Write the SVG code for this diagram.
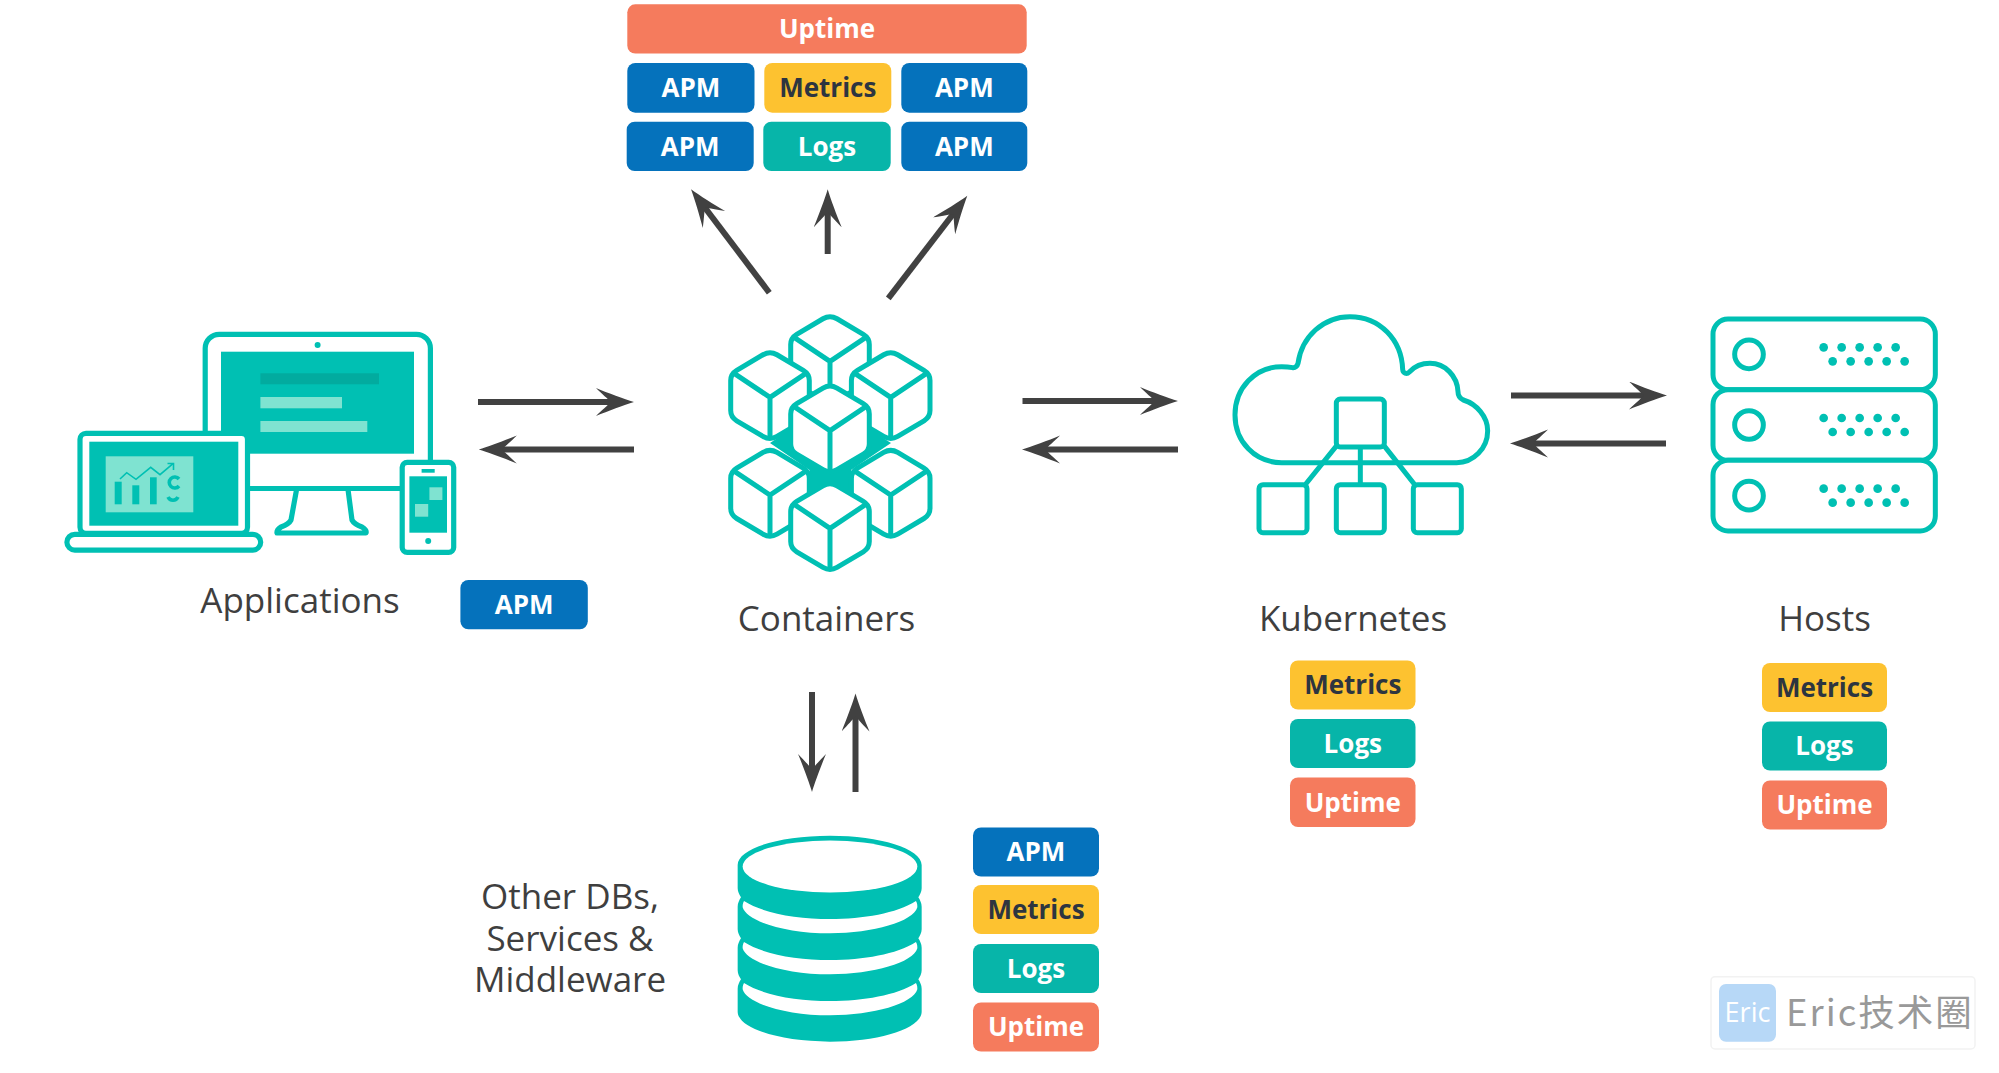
<svg xmlns="http://www.w3.org/2000/svg" width="1999" height="1073" viewBox="0 0 1999 1073">
<style>
.tag text{font-family:"Open Sans","Noto Sans",sans-serif;font-weight:700;font-size:26px;text-anchor:middle;fill:#fff}
.apm rect{fill:#0572bc}.met rect{fill:#fdc230}.log rect{fill:#07b5a9}.upt rect{fill:#f57b5d}
.met text{fill:#2d3540}
.lbl{font-family:"Open Sans","Noto Sans",sans-serif;font-size:35px;fill:#3f3f3f;text-anchor:middle}
.ln{fill:none;stroke:#00c0b3;stroke-width:5.2;stroke-linejoin:round;stroke-linecap:round}
.t{fill:#00c0b3}.w{fill:#fff}.lt{fill:#7fe3d1}.dk{fill:#02ab9f}
.arr{stroke:#414141;stroke-width:6;fill:none;marker-end:url(#ah)}
</style>
<defs>
<marker id="ah" markerUnits="userSpaceOnUse" markerWidth="40" markerHeight="30" refX="18" refY="14" orient="auto">
<path d="M38,14C28,11 12,5 0,0C6,6 12,11 15,14C12,17 6,22 0,28C12,23 28,17 38,14Z" fill="#414141"/>
</marker>
<g id="cube">
<path class="w" style="stroke:#00c0b3;stroke-width:5;stroke-linejoin:round" d="M-7,4.17Q0,0 7,4.17L33.3,19.8Q39.3,23.4 39.3,30L39.3,60Q39.3,66.6 33.3,70.2L7,85.83Q0,90 -7,85.83L-33.3,70.2Q-39.3,66.6 -39.3,60L-39.3,30Q-39.3,23.4 -33.3,19.8Z"/>
<path d="M-37,22L0,46.8L37,22M0,46.8V88" fill="none" stroke="#00c0b3" stroke-width="5"/>
</g>
<path id="crescent" class="w" d="M132,243C190,280 290,297 390,297C490,297 590,280 648,243C652,250 652,256 652,262C640,305 520,340 390,340C260,340 140,305 128,262C128,256 128,250 132,243Z"/>
<g id="srv">
<rect x="69" y="57" width="667" height="212" rx="45" fill="#fff" stroke="#00c0b3" stroke-width="15"/>
<circle cx="177" cy="163" r="43" fill="none" stroke="#00c0b3" stroke-width="15"/>
<g class="t"><circle cx="401" cy="142" r="13"/><circle cx="455" cy="142" r="13"/><circle cx="509" cy="142" r="13"/><circle cx="563" cy="142" r="13"/><circle cx="617" cy="142" r="13"/><circle cx="428" cy="184" r="13"/><circle cx="482" cy="184" r="13"/><circle cx="536" cy="184" r="13"/><circle cx="590" cy="184" r="13"/><circle cx="644" cy="184" r="13"/></g>
</g>
</defs>
<rect width="1999" height="1073" fill="#fff"/>

<g id="connectors">
<line class="arr" x1="478" y1="402" x2="614" y2="402"/>
<line class="arr" x1="634" y1="449.5" x2="498.8" y2="449.5"/>
<line class="arr" x1="1022.5" y1="401" x2="1158" y2="401"/>
<line class="arr" x1="1178" y1="449.5" x2="1042" y2="449.5"/>
<line class="arr" x1="1511" y1="395.5" x2="1647" y2="395.5"/>
<line class="arr" x1="1666" y1="443.5" x2="1530" y2="443.5"/>
<line class="arr" x1="769.3" y1="292.7" x2="703.1" y2="205.2"/>
<line class="arr" x1="827.7" y1="254" x2="827.7" y2="209.3"/>
<line class="arr" x1="888.3" y1="298.3" x2="955.1" y2="211.5"/>
<line class="arr" x1="812" y1="692" x2="812" y2="772"/>
<line class="arr" x1="855.5" y1="792" x2="855.5" y2="713.6"/>
</g>

<g id="applications">
<rect x="205.2" y="334.3" width="225.2" height="154.2" rx="14" class="w" style="stroke:#00c0b3;stroke-width:5.2"/>
<rect x="221" y="351.7" width="193" height="102" class="t"/>
<circle cx="317.6" cy="345" r="3" class="t"/>
<rect x="260.4" y="373.3" width="118.6" height="11" class="dk"/>
<rect x="260.4" y="397" width="81.6" height="11.3" class="lt"/>
<rect x="260.4" y="421" width="106.9" height="11" class="lt"/>
<path class="ln" d="M296.3,491L291,520Q289,524 281,527Q276.5,530 277,533H366Q367,530 362,527Q354,524 352,520L348.2,491" style="fill:#fff"/>
<rect x="80" y="433.3" width="167.5" height="100" rx="6" class="w" style="stroke:#00c0b3;stroke-width:5.2"/>
<rect x="89.3" y="441.7" width="149" height="84" class="t"/>
<rect x="105.7" y="456.3" width="87.6" height="56" class="lt"/>
<rect x="114.7" y="481.7" width="7" height="22.6" class="t"/>
<rect x="132.3" y="485.3" width="7" height="19" class="t"/>
<rect x="150" y="477.3" width="6.7" height="27" class="t"/>
<path d="M120,479L126.7,472.7L136,479.3L150.7,467.3L160,474.7L173.3,463.3M167.5,463.5H173.5V470" fill="none" stroke="#00c0b3" stroke-width="1.6"/>
<path d="M179,479A5.5,5.5 0 1 0 179,486" fill="none" stroke="#00c0b3" stroke-width="3.6"/>
<path d="M168,497A5.5,5.5 0 0 0 178,497" fill="none" stroke="#00c0b3" stroke-width="3.6"/>
<rect x="66.9" y="534.3" width="193.8" height="15.8" rx="7.9" class="w" style="stroke:#00c0b3;stroke-width:5.2"/>
<rect x="402.2" y="462.3" width="51.5" height="90.1" rx="5" class="w" style="stroke:#00c0b3;stroke-width:5.2"/>
<rect x="409.4" y="476.3" width="37.6" height="56.4" class="t"/>
<rect x="421.6" y="469" width="13.1" height="3.7" class="t"/>
<circle cx="428.2" cy="541" r="3" class="t"/>
<rect x="429.4" y="487.3" width="13" height="12.7" class="lt"/>
<rect x="415" y="504" width="13.2" height="12.7" class="lt"/>
<text class="lbl" x="300" y="612.7">Applications</text>
</g>
<g id="tag-app-apm" class="tag apm"><rect x="460.4" y="580" width="127.4" height="49.3" rx="8"/><text x="524.1" y="614">APM</text></g>

<g id="tags-top">
<g id="top-uptime" class="tag upt"><rect x="627.3" y="4.3" width="399.4" height="49.2" rx="8"/><text x="827" y="38.3">Uptime</text></g>
<g id="top-apm-1" class="tag apm"><rect x="627.3" y="63" width="127.2" height="49.7" rx="8"/><text x="690.9" y="97.2">APM</text></g>
<g id="top-metrics" class="tag met"><rect x="764.3" y="63" width="127" height="49.7" rx="8"/><text x="827.8" y="97.2">Metrics</text></g>
<g id="top-apm-2" class="tag apm"><rect x="901.3" y="63" width="126" height="49.7" rx="8"/><text x="964.3" y="97.2">APM</text></g>
<g id="top-apm-3" class="tag apm"><rect x="626.7" y="121.7" width="127" height="49.3" rx="8"/><text x="690.2" y="155.7">APM</text></g>
<g id="top-logs" class="tag log"><rect x="763.3" y="121.7" width="127.4" height="49.3" rx="8"/><text x="827" y="155.7">Logs</text></g>
<g id="top-apm-4" class="tag apm"><rect x="901.3" y="121.7" width="126" height="49.3" rx="8"/><text x="964.3" y="155.7">APM</text></g>
</g>

<g id="containers">
<polygon class="t" points="770,443 788,431 872,431 891,443 851,470 851,500 809.5,500 809.5,470"/>
<use href="#cube" x="830" y="314.6"/>
<use href="#cube" x="770" y="350.6"/>
<use href="#cube" x="890.7" y="350.6"/>
<use href="#cube" x="770" y="448.3"/>
<use href="#cube" x="890.7" y="448.3"/>
<use href="#cube" x="830" y="383.9"/>
<use href="#cube" x="830" y="481.6"/>
<text class="lbl" x="826.5" y="631">Containers</text>
</g>

<g id="kubernetes">
<g transform="translate(1200 300) scale(.33333)" fill="none" stroke="#00c0b3" stroke-width="15" stroke-linejoin="round">
<path d="M245,488C165,488 105,425 105,345C105,265 165,200 245,200C255,200 268,201 278,203C286,204 292,198 294,190C305,110 370,50 450,50C540,50 605,120 608,208C609,220 620,224 628,216C645,198 668,190 690,190C735,190 772,228 774,275C774,287 780,295 790,300C830,312 863,350 863,392C863,445 820,488 770,488Z"/>
<path d="M410,437L315,555M481,440V555M552,437L645,555"/>
<rect x="409" y="297" width="144" height="144" rx="12" fill="#fff"/>
<rect x="177" y="554" width="144" height="144" rx="12"/>
<rect x="409" y="554" width="144" height="144" rx="12"/>
<rect x="640" y="554" width="144" height="144" rx="12"/>
</g>
<text class="lbl" x="1353" y="631">Kubernetes</text>
</g>
<g id="tag-k-metrics" class="tag met"><rect x="1290" y="660.5" width="125.5" height="49" rx="8"/><text x="1352.8" y="694.3">Metrics</text></g>
<g id="tag-k-logs" class="tag log"><rect x="1290" y="719" width="125.5" height="49" rx="8"/><text x="1352.8" y="752.8">Logs</text></g>
<g id="tag-k-uptime" class="tag upt"><rect x="1290" y="777.5" width="125.5" height="49.5" rx="8"/><text x="1352.8" y="811.5">Uptime</text></g>

<g id="hosts">
<g transform="translate(1690 300) scale(.33333)">
<use href="#srv"/>
<use href="#srv" y="212"/>
<use href="#srv" y="424"/>
</g>
<text class="lbl" x="1824.5" y="631">Hosts</text>
</g>
<g id="tag-h-metrics" class="tag met"><rect x="1762" y="663" width="125" height="49" rx="8"/><text x="1824.5" y="696.8">Metrics</text></g>
<g id="tag-h-logs" class="tag log"><rect x="1762" y="721.5" width="125" height="49" rx="8"/><text x="1824.5" y="755.3">Logs</text></g>
<g id="tag-h-uptime" class="tag upt"><rect x="1762" y="780.5" width="125" height="49" rx="8"/><text x="1824.5" y="814.3">Uptime</text></g>

<g id="databases">
<g transform="translate(700 820) scale(.33333)">
<path class="t" d="M113,135C113,85 240,47 390,47C540,47 665,85 665,135V205C665,215 660,225 655,232C660,240 665,250 665,260V328C665,338 660,348 655,355C660,363 665,373 665,383V451C665,461 660,471 655,478C660,486 665,496 665,506V575C665,625 540,665 390,665C240,665 113,625 113,575V506C113,496 118,486 123,478C118,471 113,461 113,451V383C113,373 118,363 123,355C118,348 113,338 113,328V260C113,250 118,240 123,232C118,225 113,215 113,205Z"/>
<ellipse class="w" cx="390" cy="139.5" rx="262" ry="78"/>
<use href="#crescent"/>
<use href="#crescent" y="123"/>
<use href="#crescent" y="246"/>
</g>
<text class="lbl" x="570" y="909">Other DBs,</text>
<text class="lbl" x="570" y="950.5">Services &amp;</text>
<text class="lbl" x="570" y="992">Middleware</text>
</g>
<g id="tag-d-apm" class="tag apm"><rect x="973" y="827.5" width="126" height="49" rx="8"/><text x="1036" y="861.3">APM</text></g>
<g id="tag-d-metrics" class="tag met"><rect x="973" y="885" width="126" height="49" rx="8"/><text x="1036" y="918.8">Metrics</text></g>
<g id="tag-d-logs" class="tag log"><rect x="973" y="944" width="126" height="49" rx="8"/><text x="1036" y="977.8">Logs</text></g>
<g id="tag-d-uptime" class="tag upt"><rect x="973" y="1002.5" width="126" height="49" rx="8"/><text x="1036" y="1036.3">Uptime</text></g>

<g id="watermark">
<rect x="1711" y="976.7" width="264" height="72.3" rx="4" fill="#fff" stroke="#f2f2f2" stroke-width="1.5"/>
<rect x="1719" y="984" width="57" height="57.7" rx="7" fill="#b7d8f7"/>
<text x="1747.5" y="1022.3" font-family="'Open Sans','Noto Sans',sans-serif" font-size="27" fill="#fff" text-anchor="middle">Eric</text>
<text x="1786" y="1026" font-family="'Noto Sans CJK SC','Noto Sans',sans-serif" font-size="36.5" fill="#999" letter-spacing="2">Eric技术圈</text>
</g>
</svg>
